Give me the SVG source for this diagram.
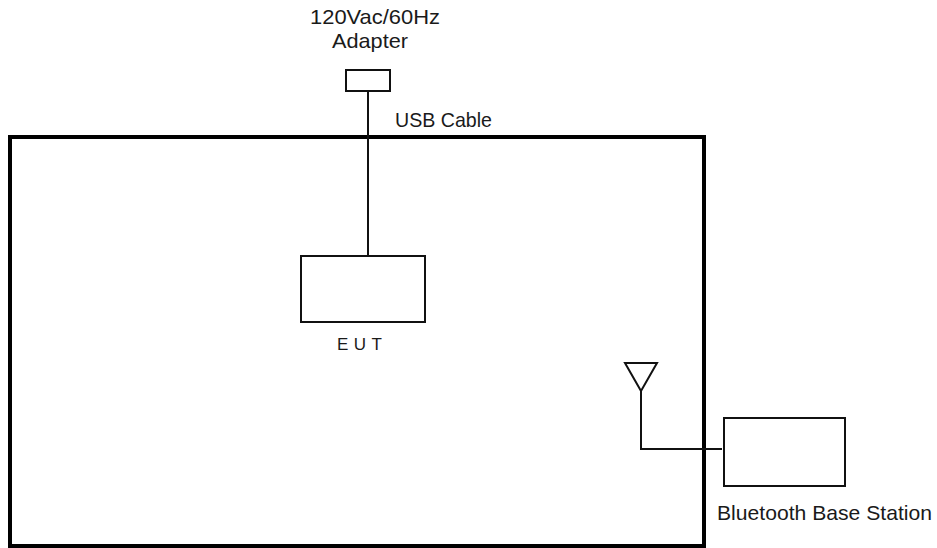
<svg xmlns="http://www.w3.org/2000/svg" width="937" height="548" viewBox="0 0 937 548">
<style>
.box{fill:#fff;stroke:#111;stroke-width:2}
.wire{fill:none;stroke:#111;stroke-width:2}
.lbl{font-family:"Liberation Sans",Arial,sans-serif;font-size:21px;fill:#1a1a1a}
</style>
<rect width="937" height="548" fill="#fff"/>
<g id="chamber"><rect x="10" y="137" width="694" height="409" fill="none" stroke="#000" stroke-width="4"/></g>
<g id="connectors">
<line class="wire" x1="368" y1="91" x2="368" y2="256"/>
<polyline class="wire" points="641,391 641,449 722,449"/>
</g>
<g id="adapter">
<rect class="box" x="346" y="70" width="44" height="21"/>
<text class="lbl" x="310" y="24" textLength="130" lengthAdjust="spacingAndGlyphs">120Vac/60Hz</text>
<text class="lbl" x="332" y="48" textLength="76" lengthAdjust="spacingAndGlyphs">Adapter</text>
</g>
<g id="usb"><text class="lbl" x="395" y="127" textLength="97" lengthAdjust="spacingAndGlyphs">USB Cable</text></g>
<g id="eut">
<rect class="box" x="301" y="256" width="124" height="66"/>
<text class="lbl" x="337" y="350" textLength="45" lengthAdjust="spacing" style="font-size:17px">EUT</text>
</g>
<g id="antenna"><polygon class="wire" points="625,363 657,363 641,391"/></g>
<g id="bt">
<rect class="box" x="724" y="418" width="121" height="68"/>
<text class="lbl" x="717" y="520" textLength="215" lengthAdjust="spacingAndGlyphs">Bluetooth Base Station</text>
</g>
</svg>
